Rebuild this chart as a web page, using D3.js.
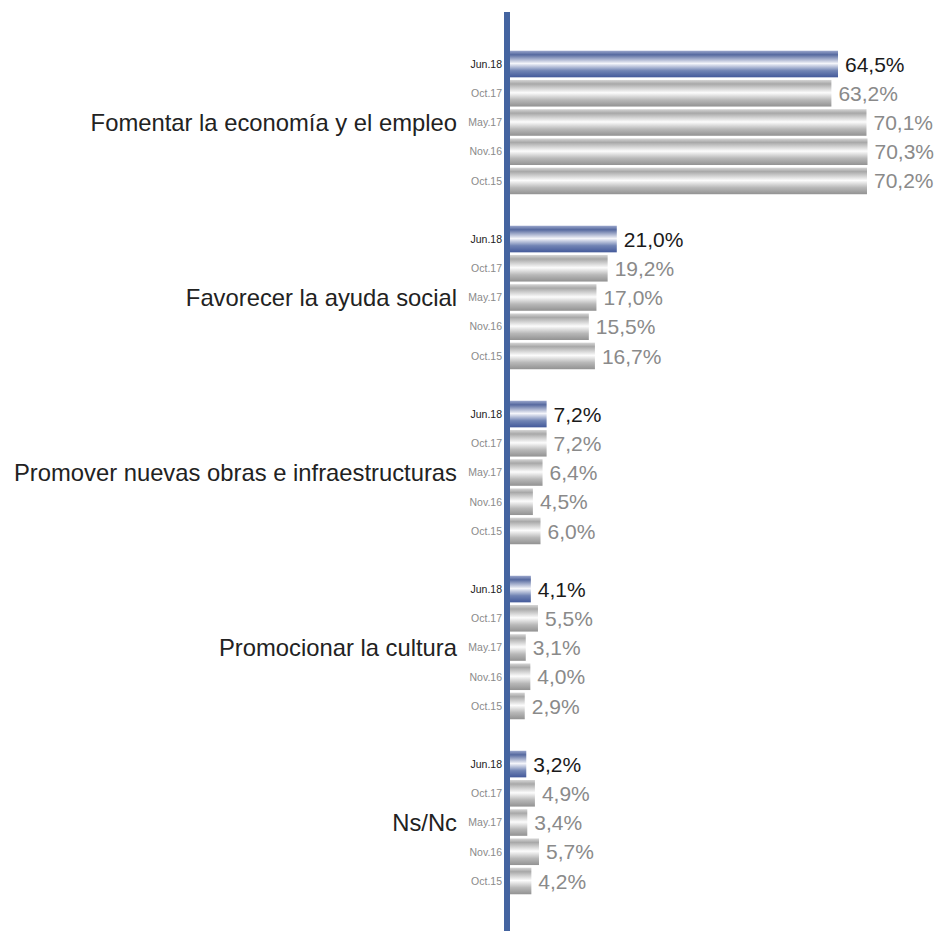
<!DOCTYPE html>
<html>
<head>
<meta charset="utf-8">
<title> </title>
<style>
  body { margin: 0; background: #fff; }
  text { font-family: "Liberation Sans", Arial, sans-serif; }
</style>
</head>
<body>
<svg width="936" height="931"></svg>
<script src="https://cdn.jsdelivr.net/npm/d3@7"></script>
<script>
  var categories = ["Fomentar la economía y el empleo", "Favorecer la ayuda social",
    "Promover nuevas obras e infraestructuras", "Promocionar la cultura", "Ns/Nc"];
  var waves = ["Jun.18", "Oct.17", "May.17", "Nov.16", "Oct.15"];
  // one array per wave, in category order
  var jun18 = [64.5, 21.0, 7.2, 4.1, 3.2];
  var oct17 = [63.2, 19.2, 7.2, 5.5, 4.9];
  var may17 = [70.1, 17.0, 6.4, 3.1, 3.4];
  var nov16 = [70.3, 15.5, 4.5, 4.0, 5.7];
  var oct15 = [70.2, 16.7, 6.0, 2.9, 4.2];
  var series = [jun18, oct17, may17, nov16, oct15];

  var data = [];
  categories.forEach(function(c, i) {
    waves.forEach(function(w, j) {
      data.push({ cat: c, wave: w, value: series[j][i], current: j === 0 });
    });
  });

  var svg = d3.select("svg");
  var axisX = 510;

  var x = d3.scaleLinear().domain([0, 70.3]).range([axisX, 867.5]);

  var y = d3.scaleBand().domain(categories)
    .range([48.1, 896.9]).paddingInner(0.15).paddingOuter(0);
  var yIn = d3.scaleBand().domain(waves)
    .range([0, y.bandwidth()]).padding(0.09);

  var defs = svg.append("defs");
  var gGray = defs.append("linearGradient").attr("id", "gray")
    .attr("x1", 0).attr("y1", 0).attr("x2", 0).attr("y2", 1);
  [[0, "#d6d6d6"], [0.15, "#a8a8a8"], [0.48, "#fcfcfc"], [0.75, "#b8b8b8"], [1, "#929292"]]
    .forEach(function(s) { gGray.append("stop").attr("offset", s[0]).attr("stop-color", s[1]); });
  var gBlue = defs.append("linearGradient").attr("id", "blue")
    .attr("x1", 0).attr("y1", 0).attr("x2", 0).attr("y2", 1);
  [[0, "#9aa6cc"], [0.15, "#56699f"], [0.48, "#f4f5fa"], [0.75, "#7184b4"], [1, "#43599a"]]
    .forEach(function(s) { gBlue.append("stop").attr("offset", s[0]).attr("stop-color", s[1]); });

  var rowY = function(d) { return y(d.cat) + yIn(d.wave); };

  svg.selectAll(".bar")
    .data(data)
    .enter().append("rect")
    .attr("class", "bar")
    .attr("x", x(0))
    .attr("y", rowY)
    .attr("width", function(d) { return x(d.value) - x(0); })
    .attr("height", yIn.bandwidth())
    .attr("fill", function(d) { return d.current ? "url(#blue)" : "url(#gray)"; });

  svg.selectAll(".val")
    .data(data)
    .enter().append("text")
    .attr("class", "val")
    .attr("x", function(d) { return x(d.value) + 7; })
    .attr("y", function(d) { return rowY(d) + yIn.bandwidth() / 2; })
    .attr("dy", "0.36em")
    .attr("font-size", 21)
    .attr("fill", function(d) { return d.current ? "#1a1a1a" : "#8a8a8a"; })
    .text(function(d) { return d3.format(".1f")(d.value).replace(".", ",") + "%"; });

  svg.selectAll(".wave")
    .data(data)
    .enter().append("text")
    .attr("class", "wave")
    .attr("x", axisX - 8)
    .attr("y", function(d) { return rowY(d) + yIn.bandwidth() / 2; })
    .attr("dy", "0.36em")
    .attr("text-anchor", "end")
    .attr("font-size", 10.5)
    .attr("fill", function(d) { return d.current ? "#1a1a1a" : "#8a8a8a"; })
    .text(function(d) { return d.wave; });

  svg.selectAll(".cat")
    .data(categories)
    .enter().append("text")
    .attr("class", "cat")
    .attr("x", 457)
    .attr("y", function(d) { return y(d) + y.bandwidth() / 2; })
    .attr("dy", "0.36em")
    .attr("text-anchor", "end")
    .attr("font-size", 23.8)
    .attr("fill", "#222")
    .text(function(d) { return d; });

  // vertical axis line
  svg.append("rect")
    .attr("x", axisX - 6)
    .attr("y", 12)
    .attr("width", 6)
    .attr("height", 919)
    .attr("fill", "#4464a0");
</script>
</body>
</html>
